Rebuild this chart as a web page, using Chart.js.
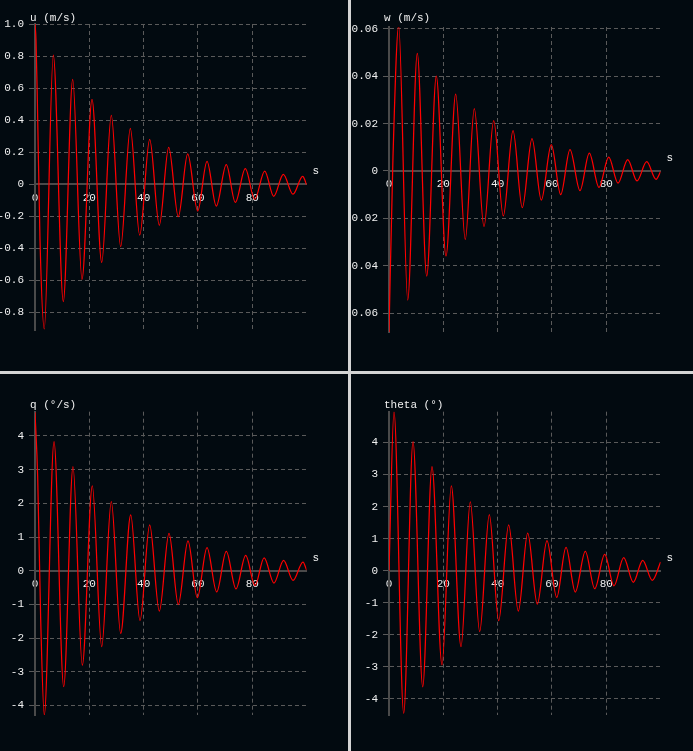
<!DOCTYPE html>
<html><head><meta charset="utf-8">
<script src="https://cdn.jsdelivr.net/npm/chart.js@4/dist/chart.umd.min.js"></script>
<style>
html,body{margin:0;padding:0;}
body{width:693px;height:751px;background:#d4d4d4;position:relative;overflow:hidden;}
.p{position:absolute;background:#020a10;overflow:hidden;}
canvas{display:block;}
</style></head><body>
<div class="p" style="left:0;top:0;width:348px;height:371px"><canvas id="c1" width="348" height="371"></canvas></div>
<div class="p" style="left:351px;top:0;width:342px;height:371px"><canvas id="c2" width="342" height="371"></canvas></div>
<div class="p" style="left:0;top:374px;width:348px;height:377px"><canvas id="c3" width="348" height="377"></canvas></div>
<div class="p" style="left:351px;top:374px;width:342px;height:377px"><canvas id="c4" width="342" height="377"></canvas></div>
<script>
// ---- data (time in s) ----
const uTime = [0, 0.37, 0.86, 1.84, 3.42, 6.74, 10.42, 13.88, 17.3, 20.99, 24.56, 28.09, 31.55, 35.09, 38.55, 42.23, 45.77, 49.23, 52.76, 56.22, 59.9, 63.33, 66.75, 70.43, 73.75, 77.43, 80.89, 84.57, 87.89, 91.42, 94.99, 98.56, 100];
const uVals = [1.0, 0.9, 0.53, -0.35, -0.906, 0.806, -0.735, 0.654, -0.596, 0.529, -0.49, 0.429, -0.392, 0.348, -0.319, 0.279, -0.258, 0.229, -0.204, 0.1875, -0.169, 0.142, -0.1375, 0.121, -0.115, 0.096, -0.096, 0.081, -0.077, 0.06, -0.064, 0.048, -0.004];

const wTime = [0, 1.47, 3.57, 6.89, 10.42, 13.88, 17.42, 20.99, 24.56, 28.09, 31.41, 34.98, 38.55, 42.08, 45.66, 49.08, 52.65, 56.08, 59.76, 63.22, 66.64, 70.32, 73.75, 77.32, 80.89, 84.32, 87.89, 91.31, 94.88, 98.31, 100];
const wVals = [-0.068, 0.006, 0.0613, -0.0545, 0.0497, -0.0444, 0.0401, -0.0359, 0.0325, -0.0289, 0.0263, -0.0235, 0.0213, -0.019, 0.017, -0.0155, 0.0137, -0.0123, 0.0111, -0.01, 0.009, -0.0083, 0.0075, -0.0069, 0.0059, -0.0051, 0.0048, -0.0042, 0.0039, -0.0035, -0.0002];

const qTime = [0, 0.98, 2.1, 3.42, 7.0, 10.57, 13.99, 17.42, 21.1, 24.56, 28.09, 31.55, 35.24, 38.66, 42.23, 45.77, 49.34, 52.76, 56.33, 59.76, 63.33, 66.9, 70.43, 74.0, 77.58, 81.0, 84.35, 87.98, 91.53, 95.0, 98.67, 100];
const qVals = [4.7, 2.8, -1.46, -4.28, 3.83, -3.44, 3.09, -2.8, 2.52, -2.25, 2.05, -1.86, 1.66, -1.48, 1.36, -1.2, 1.11, -1.0, 0.89, -0.8, 0.69, -0.63, 0.575, -0.54, 0.455, -0.44, 0.386, -0.365, 0.31, -0.285, 0.26, 0.02];

const thTime = [0, 1.84, 5.41, 8.84, 12.41, 15.83, 19.51, 22.94, 26.51, 29.93, 33.39, 36.93, 40.39, 44.07, 47.61, 51.07, 54.6, 58.17, 61.75, 65.17, 68.59, 72.28, 75.74, 79.42, 82.84, 86.41, 89.95, 93.41, 96.94, 100];
const thVals = [0, 4.96, -4.45, 4.03, -3.62, 3.25, -2.94, 2.65, -2.37, 2.15, -1.9, 1.75, -1.56, 1.43, -1.26, 1.17, -1.04, 0.94, -0.83, 0.73, -0.665, 0.605, -0.56, 0.51, -0.47, 0.41, -0.36, 0.325, -0.3, 0.27];

// ---- ticks / labels ----
const timeTickValues = [0, 20, 40, 60, 80];
const timeTickLabels = ['0', '20', '40', '60', '80'];
const uTickValues = [-0.8, -0.6, -0.4, -0.2, 0, 0.2, 0.4, 0.6, 0.8, 1.0];
const uTickLabels = ['-0.8', '-0.6', '-0.4', '-0.2', '0', '0.2', '0.4', '0.6', '0.8', '1.0'];
const wTickValues = [-0.06, -0.04, -0.02, 0, 0.02, 0.04, 0.06];
const wTickLabels = ['-0.06', '-0.04', '-0.02', '0', '0.02', '0.04', '0.06'];
const angTickValues = [-4, -3, -2, -1, 0, 1, 2, 3, 4];
const angTickLabels = ['-4', '-3', '-2', '-1', '0', '1', '2', '3', '4'];
const panelTitles = ['u (m/s)', 'w (m/s)', 'q (°/s)', 'theta (°)'];
const timeUnit = 's';

// ---- style ----
const FONT = '"Liberation Mono", "DejaVu Sans Mono", monospace';
const TXT = '#f0f0f0';
const GRID = '#5a5a5a';
const AXIS = '#4a4a4a';
const LINE = '#ff0000';

const textPlugin = {
  id: 'panelText',
  afterDraw(chart, args, opts) {
    const {ctx, chartArea} = chart;
    const y0 = chart.scales.y.getPixelForValue(0);
    ctx.save();
    ctx.font = '11px ' + FONT;
    ctx.fillStyle = TXT;
    ctx.textBaseline = 'middle';
    ctx.textAlign = 'left';
    ctx.fillText(opts.title, chartArea.left - 5, opts.titleY);
    ctx.fillText(opts.unit, chartArea.right + 6, y0 - 12.5);
    ctx.restore();
  }
};

function panel(id, times, vals, yTicks, yLabels, title, g) {
  new Chart(document.getElementById(id), {
    type: 'line',
    data: {datasets: [{
      data: times.map((t, i) => ({x: t, y: vals[i]})),
      borderColor: LINE, borderWidth: 1.25, pointRadius: 0,
      cubicInterpolationMode: 'monotone', fill: false
    }]},
    options: {
      responsive: false, animation: false, events: [],
      layout: {padding: {left: 0, top: g.top, right: g.w - g.right, bottom: g.h - g.bottom}},
      plugins: {legend: {display: false}, tooltip: {enabled: false},
        panelText: {title: title, unit: timeUnit, titleY: g.titleY}},
      scales: {
        x: {
          type: 'linear', min: 0, max: 100, position: {y: 0},
          afterBuildTicks: s => { s.ticks = timeTickValues.map(v => ({value: v})); },
          ticks: {callback: (v, i) => timeTickLabels[i], color: TXT, font: {family: FONT, size: 11},
            padding: 7, maxRotation: 0, autoSkip: false},
          grid: {color: GRID, lineWidth: 1, drawTicks: false},
          border: {color: AXIS, width: 2, dash: [4, 3]}
        },
        y: {
          type: 'linear', min: g.ymin, max: g.ymax, position: 'left',
          afterBuildTicks: s => { s.ticks = yTicks.map(v => ({value: v})); },
          afterFit: s => { s.width = g.left; },
          ticks: {callback: (v, i) => yLabels[i], color: TXT, font: {family: FONT, size: 11},
            padding: 5, autoSkip: false},
          grid: {color: GRID, lineWidth: 1, drawTicks: true, tickLength: 6, tickColor: GRID},
          border: {color: AXIS, width: 2, dash: [4, 3]}
        }
      }
    },
    plugins: [textPlugin]
  });
}

panel('c1', uTime, uVals, uTickValues, uTickLabels, panelTitles[0],
  {w: 348, h: 371, left: 35, right: 306.6, top: 24, bottom: 330, ymin: -0.9125, ymax: 1.0, titleY: 18});
panel('c2', wTime, wVals, wTickValues, wTickLabels, panelTitles[1],
  {w: 342, h: 371, left: 38, right: 309.6, top: 27, bottom: 332, ymin: -0.068, ymax: 0.0608, titleY: 18});
panel('c3', qTime, qVals, angTickValues, angTickLabels, panelTitles[2],
  {w: 348, h: 377, left: 35, right: 306.6, top: 37.7, bottom: 341, ymin: -4.28, ymax: 4.72, titleY: 31});
panel('c4', thTime, thVals, angTickValues, angTickLabels, panelTitles[3],
  {w: 342, h: 377, left: 38, right: 309.6, top: 37.7, bottom: 341, ymin: -4.5, ymax: 4.96, titleY: 31});
</script>
</body></html>
